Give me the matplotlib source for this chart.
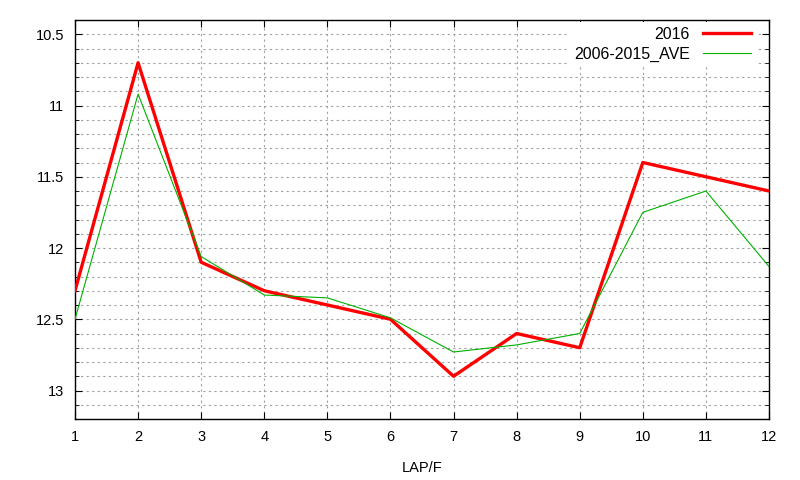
import matplotlib
matplotlib.use('Agg')
import matplotlib.pyplot as plt
from matplotlib import rcParams
from matplotlib.ticker import MultipleLocator

rcParams['font.family'] = ['Liberation Sans', 'DejaVu Sans']
rcParams['font.size'] = 10.5

laps = [1, 2, 3, 4, 5, 6, 7, 8, 9, 10, 11, 12]
y2016 = [12.3, 10.7, 12.1, 12.3, 12.4, 12.5, 12.9, 12.6, 12.7, 11.4, 11.5, 11.6]
ave = [12.5, 10.92, 12.06, 12.33, 12.35, 12.49, 12.73, 12.68, 12.6, 11.75, 11.6, 12.13]

fig = plt.figure(figsize=(8, 4.8), dpi=100)
ax = fig.add_axes([75/800, 1-419/480, (769-75)/800, (419-20)/480])

ax.plot(laps, y2016, color='#ff0000', linewidth=2.4, label='2016', zorder=3)
ax.plot(laps, ave, color='#00b000', linewidth=0.8, label='2006-2015_AVE', zorder=3)

ax.set_xlim(1, 12)
ax.set_ylim(13.2, 10.4)
ax.xaxis.set_major_locator(MultipleLocator(1))
ax.yaxis.set_minor_locator(MultipleLocator(0.1))
ax.set_yticks([10.5, 11, 11.5, 12, 12.5, 13])
ax.set_yticklabels(['10.5', '11', '11.5', '12', '12.5', '13'])

ax.tick_params(which='both', direction='in', top=True, right=True, color='black')
ax.tick_params(which='major', length=5, pad=8)
ax.tick_params(which='minor', length=3)
ax.grid(which='major', axis='x', color='#a0a0a0', linestyle=(0, (2, 3)), linewidth=0.8)
ax.grid(which='both', axis='y', color='#a0a0a0', linestyle=(0, (2, 3)), linewidth=0.8)
for s in ax.spines.values():
    s.set_linewidth(1)

ax.set_xlabel('LAP/F', labelpad=12)
leg = ax.legend(loc='upper right', bbox_to_anchor=(756/800, 1-22/480),
                bbox_transform=fig.transFigure, frameon=True, fancybox=False,
                markerfirst=False, fontsize=11.5, handlelength=3.0, borderaxespad=0,
                borderpad=0.3, labelspacing=0.3, handletextpad=0.85, framealpha=1)
leg.get_frame().set_edgecolor('none')
leg.get_frame().set_facecolor('white')

plt.savefig('out.png', dpi=100)
